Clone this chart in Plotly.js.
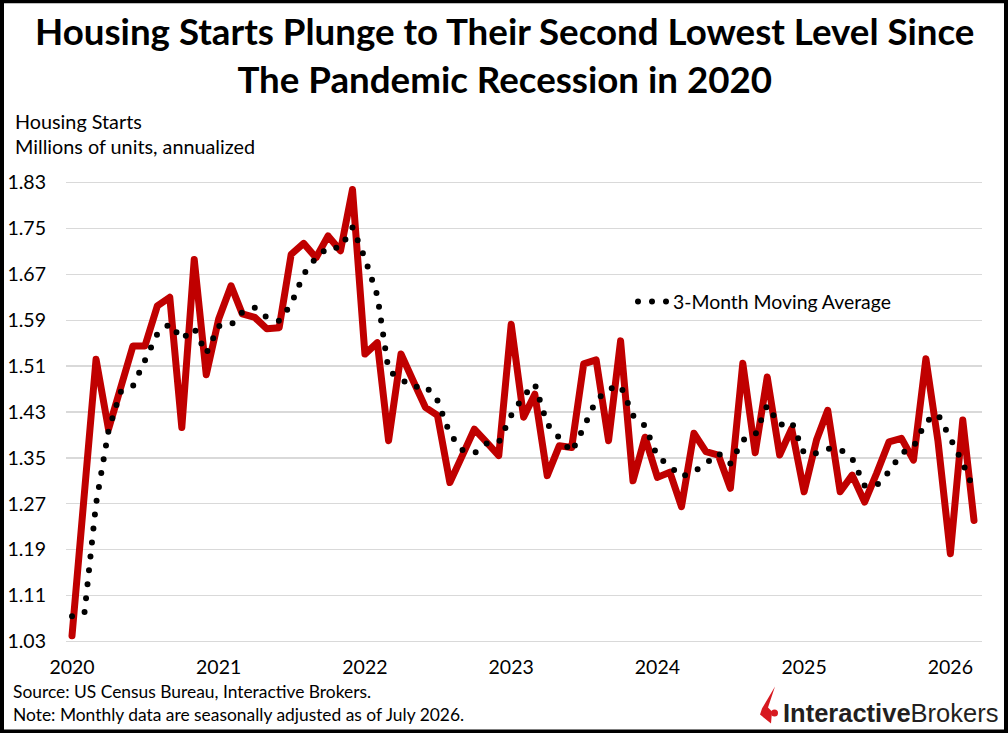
<!DOCTYPE html>
<html>
<head>
<meta charset="utf-8">
<script src="https://cdn.plot.ly/plotly-3.0.1.min.js"></script>
<style>
  body { margin: 0; background: #fff; }
  #myDiv { width: 1008px; height: 733px; }
  /* round dots for the dotted moving average, round joins for the red line */
  .main-svg path.js-line { stroke-linecap: round; stroke-linejoin: round; }
</style>
</head>
<body>
<div id="myDiv"></div>
<script>
// monthly data, first point Jan 2020
let startYear = 2020;
let startMonth = 1;

let housingStarts = [1.040,1.275,1.522,1.400,1.470,1.545,1.545,1.615,1.630,1.403,
  1.696,1.495,1.592,1.650,1.601,1.595,1.575,1.577,1.705,1.724,
  1.699,1.737,1.711,1.818,1.531,1.551,1.380,1.531,1.485,1.438,
  1.424,1.307,1.354,1.400,1.377,1.354,1.583,1.421,1.461,1.319,
  1.371,1.368,1.514,1.521,1.380,1.554,1.310,1.386,1.316,1.325,
  1.265,1.393,1.361,1.355,1.297,1.515,1.359,1.491,1.355,1.401,
  1.291,1.381,1.433,1.291,1.320,1.273,1.323,1.378,1.384,1.346,
  1.523,1.380,1.183,1.416,1.241];

let movingAvg = [1.074,1.079,1.270,1.397,1.465,1.475,1.520,1.566,1.584,1.557,
  1.576,1.532,1.580,1.582,1.604,1.612,1.595,1.589,1.618,1.670,
  1.699,1.717,1.716,1.752,1.698,1.633,1.502,1.487,1.473,1.476,
  1.450,1.392,1.364,1.358,1.375,1.377,1.424,1.458,1.479,1.409,
  1.386,1.360,1.403,1.450,1.470,1.476,1.424,1.406,1.352,1.336,
  1.317,1.326,1.340,1.358,1.340,1.381,1.390,1.442,1.407,1.413,
  1.358,1.358,1.366,1.365,1.349,1.302,1.302,1.326,1.358,1.369,
  1.413,1.426,1.384,1.341,1.294];

let yTicks = [1.03,1.11,1.19,1.27,1.35,1.43,1.51,1.59,1.67,1.75,1.83];

let months = [];
for (let i = 0; i < housingStarts.length; i++) {
  let m = startMonth - 1 + i;
  let y = startYear + Math.floor(m / 12);
  let mm = (m % 12) + 1;
  months.push(y + "-" + (mm < 10 ? "0" + mm : mm) + "-01");
}

// plot area in pixels
let L = 66, R = 982, T = 178.4, B = 645.6;
function px(x) { return (x - L) / (R - L); }
function py(y) { return (B - y) / (B - T); }

let font = "Lato, 'Open Sans', sans-serif";

var trace1 = {
  x: months,
  y: housingStarts,
  type: 'scatter',
  mode: 'lines',
  name: 'Housing Starts',
  showlegend: false,
  line: { color: '#c00000', width: 7 },
  hoverinfo: 'skip'
};

var trace2 = {
  x: months,
  y: movingAvg,
  type: 'scatter',
  mode: 'lines',
  name: '3-Month Moving Average',
  line: { color: '#000000', width: 6, dash: '0px,14px' },
  hoverinfo: 'skip'
};

var layout = {
  width: 1008,
  height: 733,
  paper_bgcolor: '#ffffff',
  plot_bgcolor: '#ffffff',
  margin: { l: L, r: 1008 - R, t: T, b: 733 - B, pad: 0 },
  font: { family: font, color: '#000000', size: 18 },
  xaxis: {
    type: 'date',
    range: ['2019-12-17', '2026-03-21'],
    tick0: '2020-01-01',
    dtick: 'M12',
    tickformat: '%Y',
    showgrid: false,
    zeroline: false,
    showline: false,
    ticks: '',
    ticklabelstandoff: 7,
    tickfont: { family: font, size: 19.5, color: '#000000' }
  },
  yaxis: {
    range: [1.022, 1.838],
    tickvals: yTicks,
    ticktext: yTicks.map(function (v) { return v.toFixed(2); }),
    showgrid: true,
    gridcolor: '#d9d9d9',
    gridwidth: 1.3,
    zeroline: false,
    showline: false,
    ticks: '',
    ticklabelstandoff: 19,
    tickfont: { family: font, size: 19.5, color: '#000000' }
  },
  showlegend: true,
  legend: {
    x: px(633), xanchor: 'left',
    y: py(302), yanchor: 'middle',
    bgcolor: 'rgba(0,0,0,0)',
    font: { family: font, size: 19.4, color: '#000000' }
  },
  annotations: [
    { text: '<b>Housing Starts Plunge to Their Second Lowest Level Since<br>The Pandemic Recession in 2020</b>',
      xref: 'paper', yref: 'paper', x: px(504), y: py(56), xanchor: 'center', yanchor: 'middle',
      showarrow: false, font: { family: font, size: 36.7, color: '#000000' } },
    { text: 'Housing Starts', xref: 'paper', yref: 'paper', x: px(13), y: py(121),
      xanchor: 'left', yanchor: 'middle', showarrow: false, font: { size: 19.8 } },
    { text: 'Millions of units, annualized', xref: 'paper', yref: 'paper', x: px(13), y: py(146),
      xanchor: 'left', yanchor: 'middle', showarrow: false, font: { size: 19.8 } },
    { text: 'Source: US Census Bureau, Interactive Brokers.', xref: 'paper', yref: 'paper', x: px(11), y: py(691),
      xanchor: 'left', yanchor: 'middle', showarrow: false, font: { size: 17.4 } },
    { text: 'Note: Monthly data are seasonally adjusted as of July 2026.', xref: 'paper', yref: 'paper', x: px(11), y: py(714),
      xanchor: 'left', yanchor: 'middle', showarrow: false, font: { size: 17.4 } },
    { text: '<b>Interactive</b>Brokers', xref: 'paper', yref: 'paper', x: px(781), y: py(712),
      xanchor: 'left', yanchor: 'middle', showarrow: false,
      font: { family: "'Liberation Sans', Arial, sans-serif", size: 25.5, color: '#231f20' } }
  ],
  shapes: [
    // frame
    { type: 'rect', xref: 'paper', yref: 'paper', layer: 'above',
      x0: px(2), x1: px(1006), y0: py(731), y1: py(2),
      line: { color: '#000000', width: 4 }, fillcolor: 'rgba(0,0,0,0)' },
    // logo flame
    { type: 'path', xref: 'paper', yref: 'paper', layer: 'above',
      path: 'M' + px(775) + ',' + py(686) + ' L' + px(762) + ',' + py(708) +
            ' L' + px(760) + ',' + py(714) + ' L' + px(771) + ',' + py(723) +
            ' L' + px(772) + ',' + py(711) + ' L' + px(768) + ',' + py(707) + ' Z',
      fillcolor: '#d71920', line: { width: 0 } },
    { type: 'circle', xref: 'paper', yref: 'paper', layer: 'above',
      x0: px(771), x1: px(778), y0: py(716), y1: py(709),
      fillcolor: '#d71920', line: { width: 0 } }
  ]
};

Plotly.newPlot('myDiv', [trace1, trace2], layout, { staticPlot: true });
</script>
</body>
</html>
